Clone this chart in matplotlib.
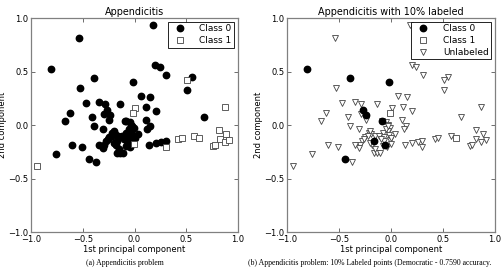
import matplotlib
matplotlib.use("Agg")
import matplotlib.pyplot as plt

# class 0 points (1st, 2nd principal component)
x0 = [-0.807, -0.540, 0.179, -0.390, -0.525, -0.017, 0.198, 0.243, 0.304, 0.552,
      0.507, -0.467, -0.342, -0.287, -0.136, -0.270, -0.239, -0.293, -0.245, 0.063,
      0.153, 0.115, 0.205, -0.621, -0.669, -0.412, -0.393, -0.309, 0.108, -0.091,
      -0.046, -0.033, -0.007, 0.034, 0.147, 0.121, 0.674, -0.216, -0.190, -0.158,
      -0.248, -0.277, -0.296, -0.309, -0.342, -0.168, -0.181, -0.168, -0.136, -0.110,
      -0.078, -0.065, -0.072, -0.058, -0.039, -0.014, -0.608, -0.511, -0.762, -0.444,
      -0.373, 0.137, 0.205, 0.256, 0.301, -0.084, -0.200, -0.220, -0.260, -0.120,
      -0.100, -0.030, -0.020, 0.000, -0.050, -0.080, -0.200, -0.150, -0.026]
y0 = [0.524, 0.814, 0.939, 0.443, 0.346, 0.405, 0.564, 0.539, 0.468, 0.449,
      0.330, 0.202, 0.215, 0.196, 0.199, 0.143, 0.096, 0.105, 0.046, 0.268,
      0.262, 0.165, 0.130, 0.112, 0.037, 0.074, -0.010, -0.038, 0.049, 0.033,
      0.027, -0.004, -0.029, -0.082, -0.013, -0.038, 0.078, -0.070, -0.085, -0.098,
      -0.116, -0.151, -0.185, -0.216, -0.191, -0.148, -0.191, -0.263, -0.260, -0.260,
      -0.075, -0.116, -0.154, -0.185, -0.210, -0.138, -0.185, -0.207, -0.272, -0.313,
      -0.341, -0.188, -0.170, -0.160, -0.145, 0.040, -0.060, -0.100, -0.130, -0.100,
      -0.130, -0.060, -0.090, -0.120, -0.040, -0.200, -0.170, -0.220, -0.007]

# class 1 points
x1 = [0.510, 0.006, -0.014, -0.004, -0.939, 0.870, 0.815, 0.886, 0.301, 0.424,
      0.455, 0.574, 0.622, 0.757, 0.780, 0.822, 0.870, 0.918]
y1 = [0.421, 0.158, 0.112, -0.179, -0.382, 0.168, -0.048, -0.085, -0.204, -0.135,
      -0.123, -0.105, -0.126, -0.194, -0.191, -0.132, -0.155, -0.141]

# points that keep their label in the 10% labeled version
lab0_idx = [0, 3, 5, 15, 16, 29, 59, 45, 53]
lab1_idx = [2, 12]

ticks = [-1.0, -0.5, 0.0, 0.5, 1.0]
tick_labels = ["\u22121.0", "\u22120.5", "0.0", "0.5", "1.0"]

plt.rcParams["font.family"] = "DejaVu Sans"
fig = plt.figure(figsize=(5.01, 2.69), dpi=100)
ax1 = fig.add_axes([0.062, 0.1375, 0.413, 0.7955])
ax2 = fig.add_axes([0.573, 0.1375, 0.415, 0.7955])


def style(ax, title):
    ax.set_xlim(-1, 1)
    ax.set_ylim(-1, 1)
    ax.set_xticks(ticks)
    ax.set_yticks(ticks)
    ax.set_xticklabels(tick_labels)
    ax.set_yticklabels(tick_labels)
    ax.tick_params(direction="in", length=3, width=0.6, labelsize=6, pad=2,
                   top=True, right=True, color="#555555")
    for s in ax.spines.values():
        s.set_color("#808080")
        s.set_linewidth(0.9)
    ax.set_title(title, fontsize=6.9, pad=2)
    ax.set_xlabel("1st principal component", fontsize=6, labelpad=1)
    ax.set_ylabel("2nd component", fontsize=6, labelpad=0.5)


def add_legend(ax):
    leg = ax.legend(loc="upper right", fontsize=6.5, numpoints=1, handletextpad=1.2,
                    borderpad=0.3, labelspacing=0.3, borderaxespad=0.4,
                    fancybox=False, edgecolor="black", framealpha=1)
    leg.get_frame().set_linewidth(0.6)


ax1.plot(x0, y0, "o", color="black", ms=4.6, label="Class 0")
ax1.plot(x1, y1, "s", mfc="white", mec="#444444", mew=0.6, ms=3.8, label="Class 1")
style(ax1, "Appendicitis")
add_legend(ax1)

# unlabeled = everything not in the labeled subsets
ux = [x for i, x in enumerate(x0) if i not in lab0_idx] + \
     [x for i, x in enumerate(x1) if i not in lab1_idx]
uy = [y for i, y in enumerate(y0) if i not in lab0_idx] + \
     [y for i, y in enumerate(y1) if i not in lab1_idx]

ax2.plot([x0[i] for i in lab0_idx], [y0[i] for i in lab0_idx], "o", color="black",
         ms=4.6, label="Class 0", zorder=3)
ax2.plot([x1[i] for i in lab1_idx], [y1[i] for i in lab1_idx], "s", mfc="white",
         mec="#444444", mew=0.6, ms=3.8, label="Class 1", zorder=3)
ax2.plot(ux, uy, "v", mfc="white", mec="#444444", mew=0.6, ms=4.2, label="Unlabeled")
style(ax2, "Appendicitis with 10% labeled")
add_legend(ax2)

fig.text(0.25, 0.015, "(a) Appendicitis problem", ha="center", fontsize=5.6,
         family="Liberation Serif")
fig.text(0.495, 0.015,
         "(b) Appendicitis problem: 10% Labeled points (Democratic - 0.7590 accuracy.",
         ha="left", fontsize=5.6, family="Liberation Serif")

fig.savefig("out.png", dpi=100)
